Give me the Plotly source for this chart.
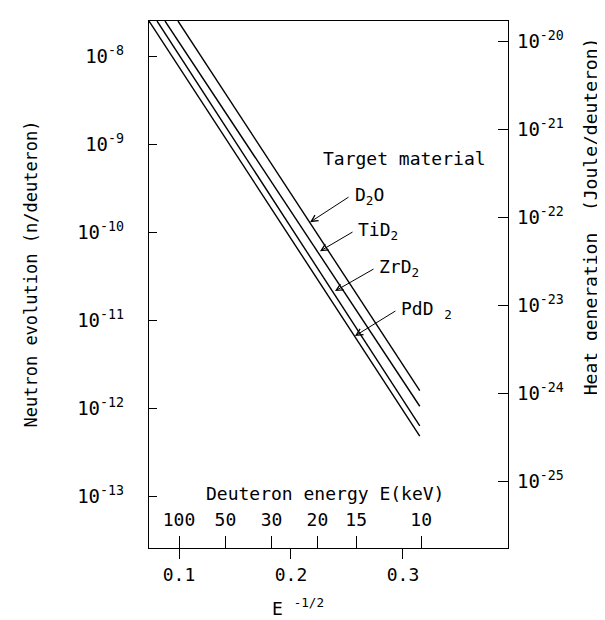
import math
import plotly.graph_objects as go

# ---- data ----
materials = ["D2O", "TiD2", "ZrD2", "PdD2"]
# x = E^-1/2 (E in keV); y = neutron evolution (n/deuteron)
x_d2o = [0.0991, 0.315]
y_d2o = [2.51e-8, 1.58e-12]
x_tid2 = [0.0875, 0.315]
y_tid2 = [2.51e-8, 1.05e-12]
x_zrd2 = [0.0804, 0.315]
y_zrd2 = [2.51e-8, 6.3e-13]
x_pdd2 = [0.0732, 0.315]
y_pdd2 = [2.51e-8, 4.8e-13]

x_tick_vals = [0.1, 0.2, 0.3]
x_tick_text = ["0.1", "0.2", "0.3"]
energy_kev = [100, 50, 30, 20, 15, 10]
energy_text = ["100", "50", "30", "20", "15", "10"]
left_exps = [-8, -9, -10, -11, -12, -13]
right_exps = [-20, -21, -22, -23, -24, -25]

FONT = "DejaVu Sans Mono"
BLACK = "black"

fig = go.Figure()
for xs, ys in [(x_d2o, y_d2o), (x_tid2, y_tid2), (x_zrd2, y_zrd2), (x_pdd2, y_pdd2)]:
    fig.add_trace(go.Scatter(x=xs, y=ys, mode="lines",
                             line=dict(color=BLACK, width=1.4),
                             showlegend=False, hoverinfo="skip"))
# helper traces so the secondary axes are drawn
fig.add_trace(go.Scatter(x=[None], y=[None], xaxis="x2", yaxis="y", showlegend=False))
fig.add_trace(go.Scatter(x=[None], y=[None], xaxis="x", yaxis="y2", showlegend=False))

xr = [0.0732, 0.3938]
tickfont = dict(family=FONT, size=19, color=BLACK)
xtickfont = dict(family=FONT, size=18, color=BLACK)

fig.update_layout(
    width=605, height=620,
    margin=dict(l=141, r=105, t=13, b=80),
    paper_bgcolor="white", plot_bgcolor="white",
    font=dict(family=FONT, size=17, color=BLACK),
    xaxis=dict(range=xr, tickvals=x_tick_vals, ticktext=x_tick_text,
               ticks="outside", ticklen=10, tickwidth=1, tickcolor=BLACK,
               showline=True, linecolor=BLACK, linewidth=1.3, mirror=True,
               showgrid=False, zeroline=False, tickfont=xtickfont),
    xaxis2=dict(range=xr, overlaying="x", anchor="y", side="bottom",
                tickvals=[e ** -0.5 for e in energy_kev], ticktext=energy_text,
                ticks="inside", ticklen=12, tickwidth=1, tickcolor=BLACK,
                ticklabelposition="inside", ticklabelstandoff=7,
                showline=False, showgrid=False,
                zeroline=False, tickfont=xtickfont),
    yaxis=dict(type="log", range=[-13.59, -7.60],
               tickvals=[10.0 ** e for e in left_exps],
               ticktext=["10<sup>%d</sup>" % e for e in left_exps],
               ticks="inside", ticklen=8, tickwidth=1, tickcolor=BLACK,
               showline=True, linecolor=BLACK, linewidth=1.3, mirror=True,
               showgrid=False, zeroline=False, tickfont=tickfont,
               ticklabelstandoff=20),
    yaxis2=dict(type="log", range=[-25.76, -19.77], overlaying="y", anchor="x",
                side="right",
                tickvals=[10.0 ** e for e in right_exps],
                ticktext=["10<sup>%d</sup>" % e for e in right_exps],
                ticks="inside", ticklen=10, tickwidth=1, tickcolor=BLACK,
                showline=True, linecolor=BLACK, linewidth=1.3,
                showgrid=False, zeroline=False, tickfont=tickfont,
                ticklabelstandoff=4),
)

ann = []
# axis titles
ann.append(dict(text="Neutron evolution (n/deuteron)", xref="paper", yref="paper",
                x=-0.33, y=0.52, xanchor="center", yanchor="middle",
                textangle=-90, showarrow=False,
                font=dict(family=FONT, size=17)))
ann.append(dict(text="Heat generation\u00a0\u00a0(Joule/deuteron)", xref="paper", yref="paper",
                x=1.232, y=0.63, xanchor="center", yanchor="middle",
                textangle=-90, showarrow=False,
                font=dict(family=FONT, size=18)))
ann.append(dict(text="E <sup>-1/2</sup>", xref="paper", yref="paper",
                x=0.415, y=-0.112, xanchor="center", yanchor="middle",
                showarrow=False, font=dict(family=FONT, size=18)))
ann.append(dict(text="Deuteron energy E(keV)", xref="paper", yref="paper",
                x=0.49, y=0.104, xanchor="center", yanchor="middle",
                showarrow=False, font=dict(family=FONT, size=18)))
ann.append(dict(text="Target material", x=0.2268, y=-9.159, xanchor="left",
                yanchor="middle", showarrow=False, font=dict(family=FONT, size=18)))

labels = [
    ("D<sub>2</sub>O", (0.217, -9.887), (0.2527, -9.591), 0.2550, -9.591),
    ("TiD<sub>2</sub>", (0.2259, -10.216), (0.2563, -9.989), 0.2578, -9.989),
    ("ZrD<sub>2</sub>", (0.2393, -10.67), (0.275, -10.41), 0.2766, -10.41),
    ("PdD <sub>2</sub>", (0.2571, -11.18), (0.2946, -10.886), 0.2962, -10.886),
]
for txt, tip, tail, tx, ty in labels:
    ann.append(dict(text="", x=tip[0], y=tip[1], ax=tail[0], ay=tail[1],
                    axref="x", ayref="y", showarrow=True, arrowhead=5,
                    arrowsize=1.3, arrowwidth=1, arrowcolor=BLACK))
    ann.append(dict(text=txt, x=tx, y=ty, xanchor="left", yanchor="middle",
                    showarrow=False, font=dict(family=FONT, size=18)))

fig.update_layout(annotations=ann)
fig.write_html("out.html")
